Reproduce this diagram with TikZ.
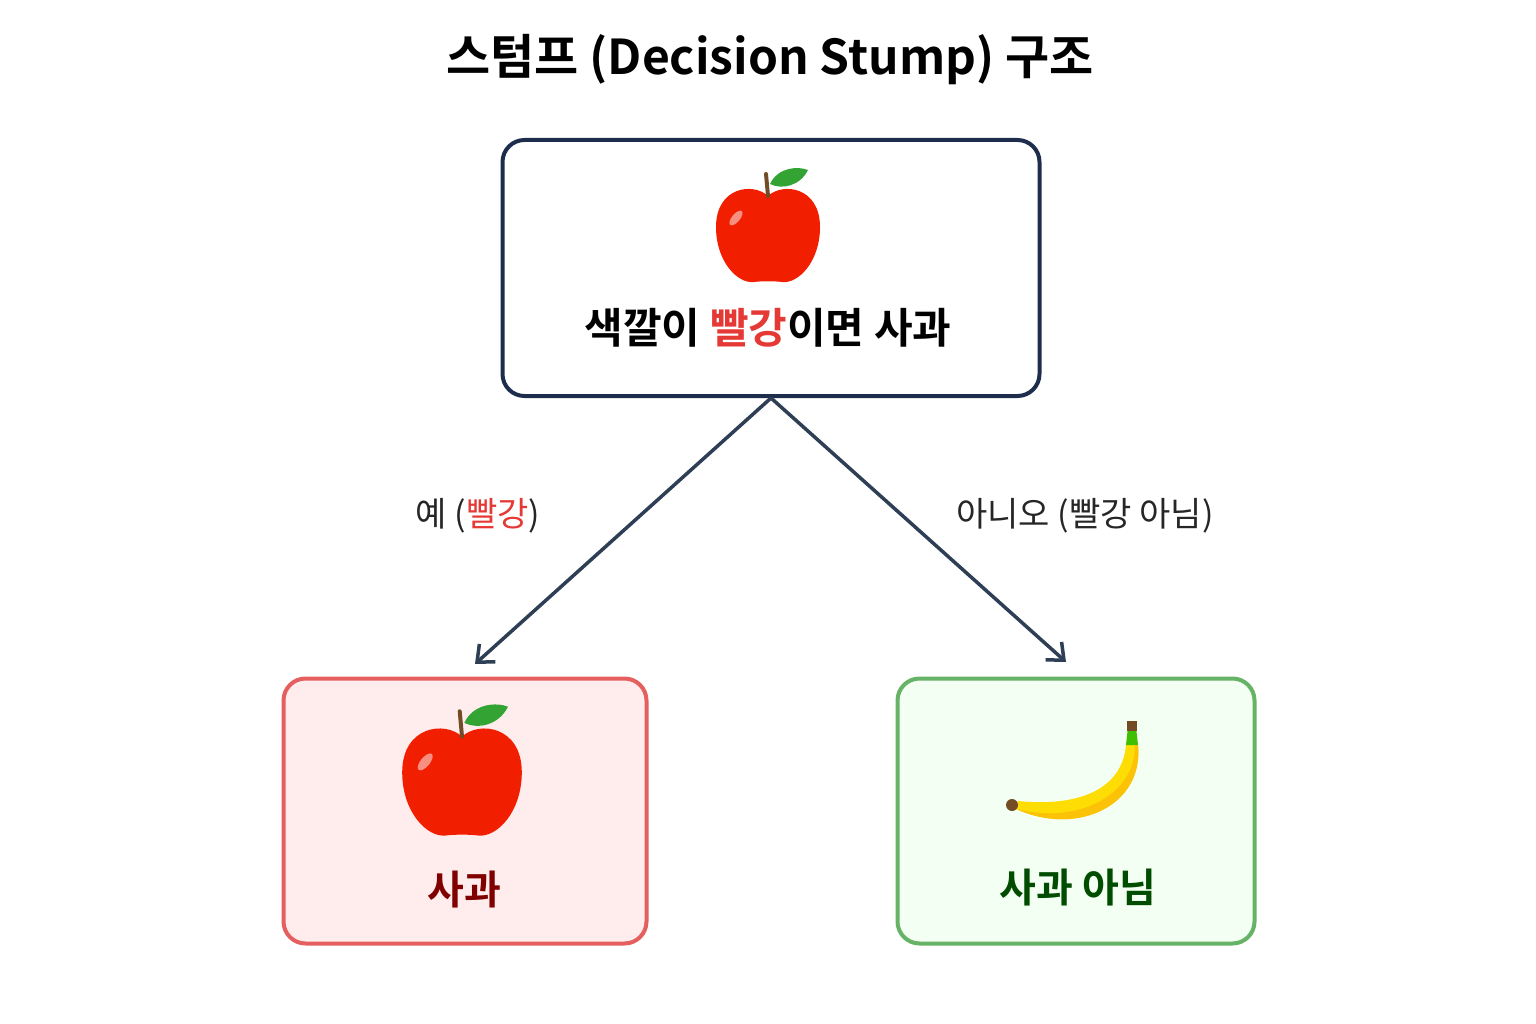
\documentclass[tikz,border=0pt]{standalone}
\usetikzlibrary{arrows.meta}
\usepackage{fontspec}
\newfontfamily\kr{Noto Sans CJK KR}[BoldFont={Noto Sans CJK KR Bold}]
\begin{document}
\begin{tikzpicture}[x=1pt,y=-1pt,
 box/.style={draw,rounded corners=22pt,line width=4pt},
 arr/.style={draw=arrc,line width=3.5pt,-{Straight Barb[length=14pt,width=24pt]}},
 lbl/.style={font=\kr\fontsize{34}{40}\selectfont,text=black!85},
 apple/.pic={
  \fill[red!75!orange!95!black] (0,-36) .. controls (15,-50) and (52,-45) .. (52,-5) .. controls (52,30) and (30,52) .. (14,50) .. controls (6,49) and (-6,49) .. (-14,50) .. controls (-30,52) and (-52,30) .. (-52,-5) .. controls (-52,-45) and (-15,-50) .. (0,-36) -- cycle;
  \fill[white,opacity=0.5,rotate around={-40:(-32,-14)}] (-32,-14) ellipse (4 and 9);
  \draw[line width=4pt,brown!60!black,line cap=round] (0,-36) -- (-2,-58);
  \fill[green!55!black!80] (2,-48) .. controls (10,-65) and (30,-66) .. (40,-62) .. controls (32,-46) and (14,-42) .. (2,-48) -- cycle;
 },
 banana/.pic={
  \fill[yellow!80!orange] (-62,24) .. controls (0,52) and (66,20) .. (60,-40) -- (48,-40) .. controls (44,5) and (0,22) .. (-60,16) -- cycle;
  \fill[yellow!55!orange] (-62,24) .. controls (0,52) and (66,20) .. (60,-40) -- (57,-40) .. controls (58,10) and (0,40) .. (-62,24);
  \fill[brown!60!black] (-66,20) circle (6);
  \fill[green!50!olive] (48,-40) -- (50,-58) -- (58,-58) -- (60,-40) -- cycle;
  \fill[brown!60!black] (49,-64) rectangle (59,-54);
 }]
\definecolor{navy}{HTML}{1F2D4D}
\definecolor{arrc}{HTML}{2D3E55}
\definecolor{rd}{HTML}{E53935}
\useasboundingbox (0,0) rectangle (1536,1024);
\node (title) at (770,60) {\kr\bfseries\fontsize{48}{56}\selectfont 스텀프 (Decision Stump) 구조};
\node[box,draw=navy,minimum width=537pt,minimum height=256pt] (top) at (771,268) {};
\pic at (768,232) {apple};
\node (toptext) at (768,328) {\kr\bfseries\fontsize{42}{50}\selectfont 색깔이 \textcolor{rd}{빨강}이면 사과};
\node[box,draw=red!45!pink!90!black,fill=red!7,minimum width=363pt,minimum height=265pt] (left) at (465,811) {};
\pic[scale=1.15] at (462,778) {apple};
\node (lt) at (464,890) {\kr\bfseries\fontsize{40}{48}\selectfont\color{red!50!black}사과};
\node[box,draw=green!50!black!60,fill=green!5,minimum width=357pt,minimum height=265pt] (right) at (1076,811) {};
\pic at (1078,785) {banana};
\node (rt) at (1078,888) {\kr\bfseries\fontsize{40}{48}\selectfont\color{green!30!black}사과 아님};
\coordinate (la) at (475,664);
\coordinate (ra) at (1066,662);
\draw[arr] (top.south) -- (la);
\draw[arr] (top.south) -- (ra);
\node[lbl] (yes) at (478,516) {예 (\textcolor{rd}{빨강})};
\node[lbl] (no) at (1085,516) {아니오 (빨강 아님)};
\end{tikzpicture}
\end{document}
